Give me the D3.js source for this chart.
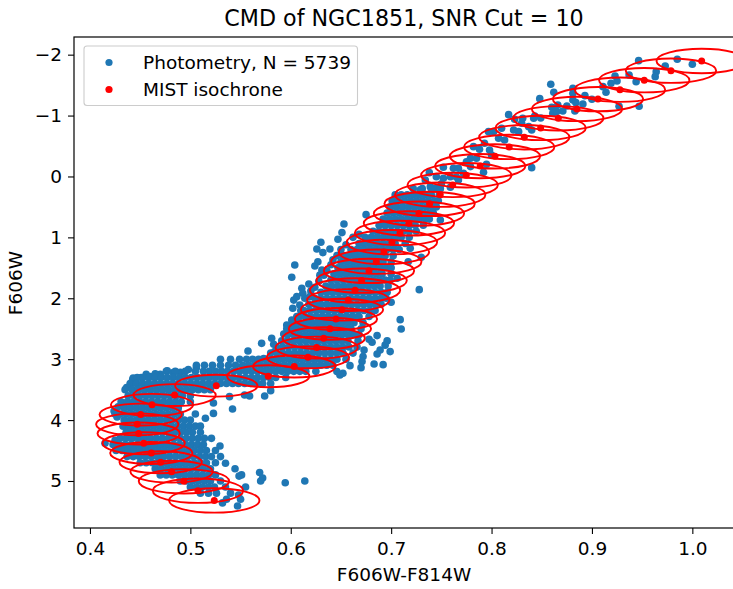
<!DOCTYPE html>
<html>
<head>
<meta charset="utf-8">
<script src="https://cdn.jsdelivr.net/npm/d3@7"></script>
<style>
html, body { margin: 0; padding: 0; background: #fff; }
svg { display: block; }
text { font-family: "DejaVu Sans", sans-serif; fill: #000; }
</style>
</head>
<body>
<svg width="733" height="589"></svg>
<script>
// isochrone points
var isoColor = [0.5238,0.5076,0.4936,0.4813,0.4704,0.4611,0.4535,0.4485,0.4471,0.4505,0.4618,0.4843,0.5258,0.5776,0.6035,0.6171,0.6258,0.6328,0.639,0.645,0.651,0.6573,0.664,0.6706,0.6779,0.6852,0.6928,0.7008,0.7088,0.7177,0.7277,0.7383,0.7489,0.7613,0.7748,0.7887,0.8034,0.8176,0.8326,0.8489,0.8665,0.8851,0.906,0.9279,0.9521,0.9787,1.0093];
var isoMag = [5.32,5.16,5.005,4.847,4.693,4.54,4.38,4.22,4.07,3.91,3.75,3.59,3.435,3.28,3.12,2.97,2.81,2.657,2.50,2.34,2.187,2.03,1.87,1.71,1.55,1.40,1.24,1.08,0.928,0.77,0.61,0.45,0.30,0.14,-0.02,-0.17,-0.33,-0.484,-0.644,-0.796,-0.955,-1.108,-1.27,-1.425,-1.58,-1.737,-1.896];
// full ellipse sizes, same order as the isochrone points
var isoWidth = [.09,.09,.09,.082,.082,.082,.082,.082,.082,.082,.082,.082,.082,.082,.082,.082,.082,.082,.082,.082,.082,.082,.09,.09,.09,.09,.09,.09,.09,.09,.09,.09,.09,.09,.09,.09,.09,.09,.09,.09,.09,.09,.09,.09,.09,.09,.09];
var isoHeight = [.4,.4,.4,.36,.36,.36,.36,.36,.36,.36,.36,.36,.36,.36,.36,.36,.36,.36,.36,.36,.36,.36,.4,.4,.4,.4,.4,.4,.4,.4,.4,.4,.4,.4,.4,.4,.4,.4,.4,.4,.4,.4,.4,.4,.4,.4,.4];

// single stars away from the dense band
var sparseStars = [
[.9465,-1.902],[.985,-1.924],[1.0,-1.842],[.973,-1.815],[.964,-1.721],[.963,-1.639],[.944,-1.557],[.937,-1.667],[.923,-1.65],[.925,-1.568],[.919,-1.53],[.911,-1.475],[.914,-1.382],[.927,-1.152],[.947,-1.152],
[.859,-1.513],[.862,-1.382],[.881,-1.448],[.881,-1.366],[.893,-1.327],[.9,-1.267],[.891,-1.191],[.881,-1.256],[.884,-1.212],[.848,-1.278],[.86,-1.136],[.866,-1.174],[.875,-1.158],[.871,-1.076],[.861,-1.037],[.865,-1.065],[.883,-1.076],
[.817,-1.015],[.831,-.955],[.843,-.994],[.849,-.961],[.842,-.955],[.823,-.939],[.83,-.873],[.837,-.818],[.84,-.764],[.81,-.791],[.802,-.736],[.797,-.736],[.822,-.764],[.827,-.736],[.807,-.627],[.813,-.599],[.793,-.545],[.782,-.49],[.788,-.446],[.798,-.435],[.8,-.353],[.779,-.298],[.785,-.298],
[.84,-.145],[.792,-.069],[.752,-.151],[.762,-.134],[.767,-.134],[.779,-.162],[.738,-.063],[.745,.003],[.752,.03],[.759,.003],[.767,.057],[.734,.057],[.759,.178],[.739,.167],[.745,.19],[.729,.22],[.75,.12],[.772,-.05],[.765,.01],[.775,-.24],[.795,-.2],
[.675,.627],[.653,.78],[.651,.922],[.647,1.032],[.63,1.081],[.626,1.19],[.632,1.25],[.639,1.19],[.627,1.4],[.624,1.47],[.604,1.453],[.601,1.656],[.631,1.535],[.629,1.62],[.618,1.765],[.611,1.836],[.612,1.918],[.606,1.973],[.603,2.03],[.609,2.11],[.602,2.165],[.619,1.973],[.601,2.356],[.596,2.438],[.593,2.586],[.603,2.493],[.581,2.657],[.571,2.74],[.583,2.756],[.5574,2.865],[.573,2.99],[.584,2.876],
[.728,1.858],[.709,2.351],[.71,2.504],[.699,2.876],[.696,2.7],[.694,2.77],[.686,2.613],[.678,2.674],[.681,2.723],[.689,2.849],[.686,2.914],[.673,2.849],[.672,2.958],[.671,3.04],[.67,3.139],[.683,3.079],[.692,3.09],[.659,3.106],[.652,3.232],[.646,3.204],[.649,3.26],[.7,2.066],[.706,1.67],[.717,1.4],[.73,1.327],[.719,1.18],[.749,.714],
[.539,3.615],[.554,3.588],[.559,3.604],[.574,3.604],[.58,3.517],[.542,3.818],[.523,3.72],[.515,3.97],[.523,3.89],
[.5445,4.8],[.535,4.71],[.547,5.41],[.548,5.23],[.555,5.1],[.551,4.9],[.5485,4.92],[.569,4.86],[.572,4.95],[.57,5.0],[.5945,5.03],[.614,5.0],[.55,5.3],[.536,5.3],[.532,5.36],
// band edges
[.662,1.0],[.668,.95],[.655,1.12],[.65,1.2],[.646,1.3],[.642,1.37],[.64,1.45],[.636,1.55],[.633,1.62],[.628,1.72],[.624,1.82],[.62,1.88],[.614,2.0],[.61,2.2],[.606,2.3],[.596,2.5],
[.4425,3.34],[.4365,3.467],[.451,3.3],[.46,3.287],[.47,3.25],[.477,3.19],[.49,3.215],[.498,3.17],[.506,3.14],[.456,3.25],[.465,3.24],[.483,3.22],[.443,3.31],[.521,4.3],[.5295,4.425],
[.424,3.85],[.425,3.9],[.427,3.95],[.428,3.78],[.425,4.33],[.415,4.38]
];

// dense part, one list of colours per magnitude row
var rowMags = [0.2,0.3,0.4,0.5,0.6,0.7,0.8,0.9,1.0,1.1,1.2,1.3,1.4,1.5,1.6,1.7,1.8,1.9,2.0,2.1,2.2,2.3,2.4,2.5,2.6,2.7,2.8,2.9,3.0,3.1,3.2,3.3,3.4,3.5,3.6,3.7,3.8,3.9,4.0,4.1,4.2,4.3,4.4,4.5,4.6,4.7,4.8,4.9,5.0,5.1,5.2];
var rowColors = [
[.722,.731,.74,.749],
[.704,.71,.716,.722,.728,.734,.74,.748],
[.701,.707,.713,.719,.725,.731,.737,.743,.747],
[.699,.705,.711,.717,.723,.729,.735,.741,.745],
[.696,.702,.708,.714,.72,.726,.732,.738,.742],
[.692,.698,.704,.71,.716,.722,.728,.734,.738],
[.688,.694,.7,.706,.712,.718,.724,.732],
[.682,.688,.694,.7,.706,.712,.718,.725],
[.674,.68,.686,.692,.698,.704,.71,.718],
[.668,.674,.68,.686,.692,.698,.704,.714],
[.66,.666,.672,.678,.684,.69,.696,.702,.708],
[.652,.658,.664,.67,.676,.682,.688,.694,.702],
[.65,.656,.662,.668,.674,.68,.686,.692,.7],
[.647,.653,.659,.665,.671,.677,.683,.689,.695,.7],
[.643,.649,.655,.661,.667,.673,.679,.685,.691,.7],
[.64,.646,.652,.658,.664,.67,.676,.682,.688,.694,.699],
[.635,.641,.647,.653,.659,.665,.671,.677,.683,.689,.697],
[.63,.636,.642,.648,.654,.66,.666,.672,.678,.684,.69,.696],
[.624,.63,.636,.642,.648,.654,.66,.666,.672,.678,.684,.69,.695],
[.618,.624,.63,.636,.642,.648,.654,.66,.666,.672,.678,.684,.69],
[.613,.619,.625,.631,.637,.643,.649,.655,.661,.667,.673,.679,.684],
[.608,.614,.62,.626,.632,.638,.644,.65,.656,.662,.668,.678],
[.603,.609,.615,.621,.627,.633,.639,.645,.651,.657,.663,.672],
[.6,.606,.612,.618,.624,.63,.636,.642,.648,.654,.66,.67],
[.597,.603,.609,.615,.621,.627,.633,.639,.645,.651,.657,.663,.668],
[.591,.597,.603,.609,.615,.621,.627,.633,.639,.645,.651,.657,.667],
[.586,.592,.598,.604,.61,.616,.622,.628,.634,.64,.646,.652,.658,.666],
[.58,.586,.592,.598,.604,.61,.616,.622,.628,.634,.64,.646,.652,.662],
[.53,.54,.549,.556,.562,.568,.574,.58,.586,.592,.598,.604,.61,.616,.622,.628,.634,.64,.646,.655],
[.506,.514,.522,.53,.538,.545,.552,.558,.564,.57,.576,.582,.588,.594,.6,.606,.612,.618,.624,.63,.636,.642],
[.476,.485,.495,.505,.513,.519,.525,.531,.537,.543,.549,.555,.561,.567,.573,.579,.585,.591,.597,.603,.609,.615,.625],
[.447,.453,.459,.465,.471,.477,.483,.489,.495,.501,.507,.513,.519,.525,.531,.537,.543,.549,.555,.561,.567,.573,.579,.585,.595],
[.44,.446,.452,.458,.464,.47,.476,.482,.488,.494,.5,.506,.512,.518,.524,.53,.536,.542,.548,.554,.56,.566,.572,.58],
[.435,.442,.448,.454,.46,.466,.472,.478,.484,.49,.496,.502,.508,.514,.52],
[.438,.444,.45,.456,.462,.468,.474,.48,.486,.492,.5],
[.431,.437,.443,.449,.455,.461,.467,.473,.479,.485,.491,.5],
[.434,.44,.446,.452,.458,.464,.47,.476,.482,.488],
[.43,.436,.442,.448,.454,.46,.466,.472,.478,.484,.49,.505],
[.434,.44,.446,.452,.458,.464,.47,.476,.482,.488,.494,.5],
[.433,.439,.445,.451,.457,.463,.469,.475,.481,.487,.493,.499,.505,.51],
[.436,.442,.448,.454,.46,.466,.472,.478,.484,.49,.496,.502,.51],
[.43,.436,.442,.448,.454,.46,.466,.472,.478,.484,.49,.496,.502,.508,.514],
[.423,.429,.435,.441,.447,.453,.459,.465,.471,.477,.483,.489,.495,.501,.507,.513],
[.426,.432,.438,.444,.45,.456,.462,.468,.474,.48,.486,.492,.498,.504,.51,.516,.525],
[.437,.443,.449,.455,.461,.467,.473,.479,.485,.491,.497,.503,.509,.515,.521,.53],
[.45,.456,.462,.468,.474,.48,.486,.492,.498,.504,.51,.516,.525],
[.465,.471,.477,.483,.489,.495,.501,.507,.513,.52],
[.47,.476,.482,.488,.494,.5,.506,.512,.518,.525],
[.49,.496,.502,.508,.514,.52,.53],
[.5,.506,.512,.518,.524,.535],
[.51,.518,.526,.54]
];

var xTicks = [0.4,0.5,0.6,0.7,0.8,0.9,1.0];
var yTicks = [-2,-1,0,1,2,3,4,5];

var svg = d3.select('svg');
var plotLeft = 74, plotRight = 733, plotTop = 37, plotBottom = 528;

var xScale = d3.scaleLinear().domain([0.3841, 1.0405]).range([plotLeft, plotRight]);
var yScale = d3.scaleLinear().domain([-2.29, 5.772]).range([plotTop, plotBottom]);

svg.append('defs').append('clipPath').attr('id', 'plot-clip')
	.append('rect')
	.attr('x', plotLeft).attr('y', plotTop)
	.attr('width', plotRight - plotLeft).attr('height', plotBottom - plotTop);

// flatten rows into one star list
var stars = sparseStars.map(function(d) { return {c: d[0], m: d[1]}; });
rowMags.forEach(function(mag, i) {
	rowColors[i].forEach(function(c) { stars.push({c: c, m: mag}); });
});

var isochrone = isoColor.map(function(c, i) {
	return {c: c, m: isoMag[i], w: isoWidth[i], h: isoHeight[i]};
});

var plotG = svg.append('g').attr('clip-path', 'url(#plot-clip)');

plotG.append('g').selectAll('circle')
	.data(stars)
	.enter()
	.append('circle')
	.attr('cx', function(d) { return xScale(d.c); })
	.attr('cy', function(d) { return yScale(d.m); })
	.attr('r', 3.8)
	.style('fill', '#1f77b4');

plotG.append('g').selectAll('ellipse')
	.data(isochrone)
	.enter()
	.append('ellipse')
	.attr('cx', function(d) { return xScale(d.c); })
	.attr('cy', function(d) { return yScale(d.m); })
	.attr('rx', function(d) { return xScale(d.w / 2) - xScale(0); })
	.attr('ry', function(d) { return yScale(d.h / 2) - yScale(0); })
	.style('fill', 'none')
	.style('stroke', 'red')
	.style('stroke-width', 1.9);

plotG.append('g').selectAll('circle')
	.data(isochrone)
	.enter()
	.append('circle')
	.attr('cx', function(d) { return xScale(d.c); })
	.attr('cy', function(d) { return yScale(d.m); })
	.attr('r', 3.5)
	.style('fill', 'red');

var xAxis = d3.axisBottom(xScale).tickValues(xTicks).tickSize(6).tickPadding(8).tickFormat(d3.format('.1f'));
var yAxis = d3.axisLeft(yScale).tickValues(yTicks).tickSize(6).tickPadding(6).tickFormat(function(d) {
	return d < 0 ? '\u2212' + Math.abs(d) : d;
});

var xG = svg.append('g').attr('transform', 'translate(0,' + plotBottom + ')').call(xAxis);
var yG = svg.append('g').attr('transform', 'translate(' + plotLeft + ',0)').call(yAxis);
xG.select('.domain').remove();
yG.select('.domain').remove();
[xG, yG].forEach(function(g) {
	g.selectAll('text').style('font-family', '"DejaVu Sans"').style('font-size', '18.5px');
	g.selectAll('line').style('stroke', '#000').style('stroke-width', 1.1);
});

svg.append('rect')
	.attr('x', plotLeft).attr('y', plotTop)
	.attr('width', plotRight - plotLeft + 2).attr('height', plotBottom - plotTop)
	.style('fill', 'none').style('stroke', '#000').style('stroke-width', 1.2);

svg.append('text').attr('x', 404).attr('y', 26)
	.attr('text-anchor', 'middle').style('font-size', '22.2px')
	.text('CMD of NGC1851, SNR Cut = 10');
svg.append('text').attr('x', 404).attr('y', 581)
	.attr('text-anchor', 'middle').style('font-size', '18.5px')
	.text('F606W-F814W');
svg.append('text').attr('transform', 'translate(22,283) rotate(-90)')
	.attr('text-anchor', 'middle').style('font-size', '18.5px')
	.text('F606W');

// legend
var legendG = svg.append('g');
legendG.append('rect')
	.attr('x', 84).attr('y', 46).attr('width', 273.5).attr('height', 59.5)
	.attr('rx', 3)
	.style('fill', '#fff').style('fill-opacity', 0.8)
	.style('stroke', '#ccc').style('stroke-width', 1.1);
var legendItems = [['Photometry, N = 5739', '#1f77b4', 62.5], ['MIST isochrone', 'red', 89.5]];
legendItems.forEach(function(d) {
	legendG.append('circle').attr('cx', 109).attr('cy', d[2]).attr('r', 3.6).style('fill', d[1]);
	legendG.append('text').attr('x', 143).attr('y', d[2] + 6.5).style('font-size', '18.5px').text(d[0]);
});
</script>
</body>
</html>
